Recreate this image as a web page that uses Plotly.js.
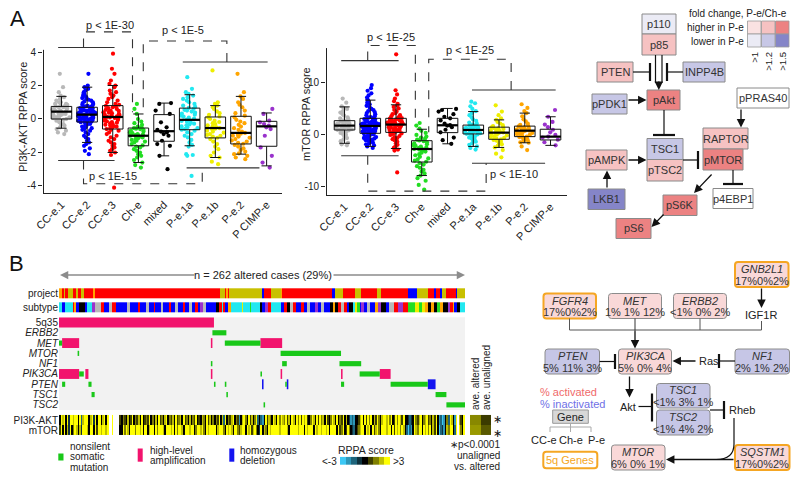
<!DOCTYPE html>
<html><head><meta charset="utf-8">
<script src="https://cdn.plot.ly/plotly-3.0.1.min.js"></script>
<style>html,body{margin:0;padding:0;background:#fff}#chart{width:800px;height:479px}</style>
</head><body><div id="chart"></div>
<script>
// ================= DATA =================
const groups = ['CC-e.1','CC-e.2','CC-e.3','Ch-e','mixed','P-e.1a','P-e.1b','P-e.2','P CIMP-e'];

// PI3K-AKT RPPA score box statistics
const pi3kQ1     = [0.0,-0.18,-0.6,-1.6,-1.33,-0.64,-1.13,-1.49,-1.63];
const pi3kMedian = [0.44,0.26,0.12,-1.0,-0.73,-0.05,-0.54,-0.83,-0.44];
const pi3kQ3     = [0.75,0.7,0.8,-0.54,0.26,0.65,0.12,0.16,-0.14];
const pi3kLower  = [-0.55,-1.4,-2.0,-2.6,-2.2,-1.6,-2.3,-2.1,-2.8];
const pi3kUpper  = [1.35,1.9,2.0,0.3,0.95,1.45,0.8,1.35,0.36];
// PI3K-AKT sample points
const pi3kCCe1 = [2.7,1.9,1.6,1.4,1.3,1.2,1.1,1.0,1.0,0.9,0.9,0.85,0.8,0.8,0.75,0.7,0.7,0.65,0.6,0.6,0.55,0.5,0.5,0.45,0.45,0.4,0.4,0.35,0.3,0.3,0.25,0.2,0.2,0.15,0.1,0.1,0.05,0.0,0.0,-0.05,-0.1,-0.2,-0.3,-0.35,-0.4,-0.5,-0.6,-0.7,-0.8,-0.9];
const pi3kCCe2 = [2.7,2.0,1.9,1.8,1.7,1.6,1.5,1.45,1.4,1.3,1.25,1.2,1.15,1.1,1.05,1.0,0.95,0.9,0.85,0.8,0.78,0.75,0.72,0.68,0.65,0.62,0.6,0.57,0.55,0.52,0.5,0.48,0.45,0.42,0.4,0.38,0.36,0.34,0.32,0.3,0.28,0.27,0.26,0.25,0.22,0.2,0.18,0.16,0.14,0.12,0.1,0.08,0.06,0.04,0.02,0.0,-0.02,-0.04,-0.06,-0.08,-0.1,-0.12,-0.14,-0.16,-0.17,-0.18,-0.19,-0.22,-0.26,-0.3,-0.35,-0.4,-0.45,-0.5,-0.55,-0.6,-0.65,-0.7,-0.8,-0.9,-1.0,-1.1,-1.2,-1.3,-1.4,-1.5,-1.6,-1.75,-1.9,-2.1];
const pi3kCCe3 = [3.9,3.0,2.7,2.3,2.1,2.0,1.9,1.7,1.6,1.5,1.4,1.3,1.2,1.1,1.0,0.9,0.85,0.78,0.75,0.7,0.65,0.6,0.55,0.5,0.48,0.45,0.4,0.38,0.35,0.3,0.27,0.24,0.2,0.16,0.13,0.1,0.06,0.02,-0.02,-0.06,-0.1,-0.14,-0.18,-0.22,-0.26,-0.3,-0.34,-0.38,-0.42,-0.46,-0.5,-0.55,-0.6,-0.65,-0.7,-0.8,-0.9,-1.0,-1.1,-1.2,-1.3,-1.4,-1.5,-1.6,-1.7,-1.8,-1.9,-2.0,-2.15,-4.1];
const pi3kChe  = [0.9,0.6,0.3,0.0,-0.15,-0.25,-0.35,-0.45,-0.5,-0.55,-0.58,-0.6,-0.65,-0.7,-0.75,-0.8,-0.85,-0.9,-0.93,-0.96,-0.98,-1.0,-1.02,-1.05,-1.1,-1.15,-1.2,-1.25,-1.3,-1.35,-1.4,-1.5,-1.58,-1.65,-1.7,-1.8,-1.9,-2.0,-2.1,-2.2,-2.3,-2.45,-2.6,-2.75,-2.9];
const pi3kMixed = [0.95,0.9,0.5,0.3,-0.2,-0.5,-0.65,-0.75,-0.8,-0.9,-1.0,-1.3,-1.5,-1.6,-2.2,-3.0];
const pi3kPe1a = [2.5,1.8,1.6,1.5,1.4,1.3,1.2,1.1,1.0,0.9,0.8,0.72,0.66,0.6,0.55,0.5,0.44,0.38,0.32,0.26,0.2,0.14,0.08,0.02,-0.04,-0.08,-0.12,-0.17,-0.22,-0.28,-0.33,-0.38,-0.44,-0.5,-0.55,-0.6,-0.64,-0.7,-0.8,-0.9,-1.0,-1.1,-1.25,-1.4,-1.55,-1.65,-2.1,-2.15,-2.2,-3.4];
const pi3kPe1b = [2.9,1.0,0.9,0.8,0.7,0.6,0.45,0.35,0.25,0.15,0.1,0.0,-0.1,-0.18,-0.25,-0.3,-0.38,-0.44,-0.5,-0.54,-0.58,-0.62,-0.7,-0.75,-0.82,-0.9,-0.95,-1.0,-1.05,-1.12,-1.2,-1.35,-1.5,-1.65,-1.8,-2.0,-2.2,-2.3,-2.55,-2.7];
const pi3kPe2  = [2.7,1.6,1.35,1.2,1.0,0.85,0.7,0.5,0.35,0.2,0.1,-0.05,-0.15,-0.25,-0.35,-0.45,-0.55,-0.65,-0.75,-0.83,-0.88,-0.95,-1.0,-1.05,-1.12,-1.2,-1.28,-1.35,-1.42,-1.48,-1.55,-1.65,-1.75,-1.85,-1.95,-2.05,-2.1,-2.2,-2.3,-2.4];
const pi3kCIMP = [0.6,0.3,-0.1,-0.2,-0.3,-0.4,-0.5,-0.6,-1.0,-1.7,-2.2,-2.6,-2.9];

// mTOR RPPA score box statistics
const mtorQ1     = [0.96,0.32,0.5,-5.2,0.45,0.2,-0.83,-0.32,-0.96];
const mtorMedian = [1.8,1.73,2.0,-2.7,1.86,0.96,0.45,0.83,-0.32];
const mtorQ3     = [2.75,3.2,3.2,-1.1,3.2,1.9,1.5,1.7,1.1];
const mtorLower  = [-1.6,-2.2,-2.6,-7.8,-1.7,-2.2,-2.4,-1.5,-2.0];
const mtorUpper  = [5.4,6.7,5.8,1.1,5.1,4.5,2.9,4.2,3.5];
// mTOR sample points
const mtorCCe1 = [7.0,6.2,5.5,5.2,5.0,4.6,4.3,4.0,3.7,3.4,3.2,3.0,2.8,2.7,2.6,2.5,2.4,2.3,2.2,2.1,2.0,1.95,1.9,1.85,1.8,1.75,1.7,1.6,1.5,1.45,1.4,1.3,1.25,1.2,1.1,1.05,0.98,0.9,0.8,0.6,0.4,0.2,0.0,-0.3,-0.6,-0.9,-1.2,-1.5,-1.8,-2.0];
const mtorCCe2 = [9.6,9.0,8.5,8.0,7.6,7.2,6.8,6.5,6.2,5.9,5.6,5.3,5.0,4.8,4.6,4.4,4.2,4.0,3.8,3.6,3.45,3.35,3.25,3.15,3.05,2.95,2.85,2.75,2.65,2.55,2.45,2.35,2.3,2.25,2.2,2.15,2.1,2.05,2.0,1.95,1.9,1.85,1.8,1.77,1.74,1.7,1.62,1.55,1.48,1.4,1.33,1.26,1.2,1.13,1.06,1.0,0.93,0.86,0.8,0.73,0.66,0.6,0.53,0.47,0.42,0.37,0.33,0.28,0.2,0.1,0.0,-0.1,-0.2,-0.3,-0.4,-0.5,-0.6,-0.7,-0.8,-0.9,-1.0,-1.1,-1.2,-1.35,-1.5,-1.65,-1.8,-2.0,-2.2,-2.5];
const mtorCCe3 = [15.5,8.6,7.8,7.0,6.5,6.0,5.7,5.4,5.1,4.8,4.5,4.2,4.0,3.8,3.6,3.4,3.25,3.15,3.05,2.95,2.85,2.8,2.7,2.6,2.55,2.5,2.4,2.35,2.3,2.25,2.2,2.15,2.1,2.05,2.0,1.95,1.85,1.75,1.7,1.6,1.5,1.45,1.35,1.25,1.15,1.1,1.0,0.9,0.85,0.75,0.65,0.58,0.5,0.4,0.3,0.2,0.0,-0.2,-0.4,-0.6,-0.8,-1.0,-1.3,-1.6,-1.9,-2.2,-2.5,-2.8,-3.0,-7.2];
const mtorChe  = [2.3,1.8,1.2,0.8,0.4,0.0,-0.3,-0.5,-0.7,-0.9,-1.05,-1.2,-1.4,-1.6,-1.8,-1.95,-2.1,-2.25,-2.4,-2.5,-2.6,-2.7,-2.8,-3.0,-3.2,-3.4,-3.7,-3.9,-4.2,-4.5,-4.7,-4.95,-5.15,-5.4,-5.7,-6.0,-6.3,-6.7,-7.0,-7.4,-7.8,-8.3,-8.8,-9.6,-10.5];
const mtorMixed = [5.0,4.8,4.5,4.0,3.5,3.2,2.8,2.2,1.9,1.8,1.5,1.0,0.5,-0.5,-1.0,-1.7];
const mtorPe1a = [6.4,6.1,5.5,5.0,4.6,4.2,3.8,3.4,3.0,2.7,2.4,2.2,2.0,1.85,1.75,1.65,1.55,1.45,1.38,1.3,1.22,1.15,1.08,1.02,0.97,0.92,0.85,0.78,0.72,0.65,0.58,0.52,0.46,0.4,0.33,0.27,0.21,0.1,-0.1,-0.3,-0.5,-0.7,-0.9,-1.1,-1.3,-1.6,-1.9,-2.2,-2.5,-2.8];
const mtorPe1b = [5.7,4.5,3.8,3.2,2.9,2.5,2.2,1.9,1.7,1.55,1.45,1.35,1.25,1.15,1.05,0.95,0.8,0.7,0.58,0.47,0.4,0.3,0.2,0.05,-0.1,-0.25,-0.4,-0.55,-0.7,-0.82,-0.95,-1.1,-1.3,-1.5,-1.8,-2.1,-2.4,-2.9,-3.6,-4.3];
const mtorPe2  = [5.9,5.2,4.6,4.2,3.6,3.0,2.6,2.2,1.95,1.75,1.65,1.55,1.45,1.35,1.25,1.15,1.05,0.98,0.9,0.84,0.78,0.7,0.6,0.5,0.4,0.3,0.15,0.0,-0.15,-0.3,-0.4,-0.55,-0.7,-0.85,-1.0,-1.2,-1.4,-1.5,-2.2,-2.9];
const mtorCIMP = [4.8,3.5,2.5,2.0,1.5,1.0,0.5,0.0,-0.3,-0.5,-0.9,-1.4,-2.0];

// Panel B oncoprint (262 altered cases)
const nCases = 262;
const projectKeys = ['R','Y','B','O'];
const projectRuns = 'O2R1Y1R2Y3R2Y1R2Y2R6O1R81Y3R1O1R1Y21B1R5Y6O1R32B2Y5R8Y4R10Y3R17B6Y7R4B1R3B1Y3R6B1Y5';
const subtypeKeys = ['g','b','r','G','k','c','y','o','p'];
const subtypeRuns = 'c2b2c5r1o1b2k4b1c3p2g4r2b3g2r3b7g2b5r1b4g2b3r1b4g1b4r1b3g2b3r1b3g2b2r2b1p2g2b6k2r2c1r1b2o2c7y1c4G1c6k1b2p2r2c6b2r2k2g2r2b3r2b2g2b3p2b2g2b4k2o1k2r2g2r2b1k3c1y1G2b1p2b2g2b3o2p2k3b2g3r3p3r3G5y2G2y2o2k2o2k2G2o2k3p1r2o1b2k2c3';
const heatGenes = ['5q35','ERBB2','MET','MTOR','NF1','PIK3CA','PTEN','TSC1','TSC2'];
const heatGeneLabels = ['5q35','<i>ERBB2</i>','<i>MET</i>','<i>MTOR</i>','<i>NF1</i>','<i>PIK3CA</i>','<i>PTEN</i>','<i>TSC1</i>','<i>TSC2</i>'];
// alterations: [gene, firstCase, lastCase]
const mutations = [
  ['ERBB2',99,107],['MET',0,1],['MET',107,129],['MTOR',12,12],['MTOR',143,181],
  ['NF1',98,98],['NF1',144,146],['NF1',181,194],
  ['PIK3CA',13,15],['PIK3CA',130,130],['PIK3CA',194,206],
  ['PTEN',2,3],['PTEN',19,20],['PTEN',100,100],['PTEN',107,107],['PTEN',146,146],['PTEN',182,183],['PTEN',214,237],
  ['TSC1',21,22],['TSC1',108,108],['TSC1',243,249],['TSC2',132,132],['TSC2',250,261]];
const amplifications = [
  ['5q35',0,99],['MET',2,12],['MET',98,98],['MET',130,143],
  ['PIK3CA',0,12],['PIK3CA',17,18],['PIK3CA',98,98],['PIK3CA',143,143],['PIK3CA',182,182],['PIK3CA',207,213]];
const deletions = [['PTEN',131,131],['PTEN',147,147],['PTEN',238,242]];
// RPPA scores per case, digit d -> (d-4)*0.75, '.' = no data
const rppaPI3K = ['4878483887','8848278884','7838488478','48..8....5','4654745846','5748456584','6474856478','4657485674','8564746584','5476485746','4658472846','5784651478','6485746824','2148576487','4868768574','8748685878','5468748586','7485468748','4658474312','1445784858','6847586478','8786845868','7584432348','6578467856','4758412014','6287418.75','48'].join('');
const rppaMTOR = ['5848473846','8747388874','8848588788','78..8....4','4868748886','8878488478','8486888748','8878486887','4888788468','8786487888','8478886487','8748865788','4878578643','8476487888','8878888748','8888788848','7888487887','8878488884','8568458643','2456788487','8485786488','8788485878','6874202148','7688487868','4758402314','7688428.86','48'].join('');
const rppaRows = ['PI3K-AKT','mTOR'];
const aveAltered = [1.6, 1.8];
const aveUnaligned = [0.7, 1.05];
const rppaLegendValues = [-3,-2.25,-1.5,-0.75,0,0.75,1.5,2.25,3];

// Pathway A: nodes and fold change level (P-e / Ch-e): + higher, - lower, 0 none
const pathANodes = ['p110','p85','PTEN','INPP4B','pPDK1','pAkt','pPRAS40','RAPTOR','pMTOR','TSC1','pTSC2','pAMPK','LKB1','p4EBP1','pS6K','pS6'];
const pathAFold  = [-1,2,2,-2,-2,3,0,2,3,-2,2,2,-3,0,3,3];
const foldLegendLabels = ['>1','>1.2','>1.5'];

// Pathway B: genes and alteration frequencies (CC-e, Ch-e, P-e)
const pathBGenes = ['GNB2L1','FGFR4','MET','ERBB2','PTEN','PIK3CA','NF1','TSC1','TSC2','MTOR','SQSTM1'];
const pathBPct = ['17%0%2%','17%0%2%','1% 1% 12%','&lt;1% 0% 2%','5% 11% 3%','5% 0% 4%','2% 1% 2%','&lt;1% 3% 1%','&lt;1% 4% 2%','6% 0% 1%','17%0%2%'];
const pathBActivated = [true,true,true,true,false,true,false,false,false,true,true];
const pathB5q = [true,true,false,false,false,false,false,false,false,false,true];

// ================= STYLE / LAYOUT HELPERS =================
const FONT = 'Liberation Sans, Arial, sans-serif';
const INK = '#222';
const groupColors = ['#b8b8b8','#0000ff','#ff0000','#22dd22','#000000','#22e8f0','#eeee00','#ffa500','#9932cc'];
const projectColors = ['#ff0000','#c8c000','#0000ff','#ffa500'];
const mutColor = '#19c819', ampColor = '#f2136d', delColor = '#1414f0';
const hiCols = ['#ffffff','#fae2e2','#f6c2c2','#ec8282'];
const loCols = ['#ffffff','#ebebf5','#c7c7e6','#8585c8'];
const X = p => p/800, Y = p => 1 - p/479;

const annotations = [], shapes = [];
function txt(x, y, text, o={}) {
  annotations.push(Object.assign({xref:'paper', yref:'paper', x:X(x), y:Y(y), text, showarrow:false,
    xanchor:'center', yanchor:'middle', font:{family:FONT, size:11, color:INK}}, o));
}
function arrow(x0, y0, x1, y1, o={}) {
  annotations.push(Object.assign({xref:'paper', yref:'paper', x:X(x1), y:Y(y1), ax:x0-x1, ay:y0-y1,
    axref:'pixel', ayref:'pixel', text:'', showarrow:true, arrowhead:2, arrowsize:1.3, arrowwidth:1.3,
    arrowcolor:'#111', standoff:0, startstandoff:0}, o));
}
function line(x0, y0, x1, y1, w=1, c='#111', dash='solid') {
  shapes.push({type:'line', xref:'paper', yref:'paper', x0:X(x0), y0:Y(y0), x1:X(x1), y1:Y(y1), line:{color:c, width:w, dash}});
}
function rect(x0, y0, x1, y1, fill, lc='#999', lw=1) {
  shapes.push({type:'rect', xref:'paper', yref:'paper', x0:X(x0), y0:Y(y0), x1:X(x1), y1:Y(y1), fillcolor:fill, line:{color:lc, width:lw}});
}
function rrect(x0, y0, x1, y1, r, fill, lc, lw) {
  const P = (x,y) => X(x)+','+Y(y);
  const path = `M${P(x0+r,y0)} L${P(x1-r,y0)} Q${P(x1,y0)} ${P(x1,y0+r)} L${P(x1,y1-r)} Q${P(x1,y1)} ${P(x1-r,y1)} L${P(x0+r,y1)} Q${P(x0,y1)} ${P(x0,y1-r)} L${P(x0,y0+r)} Q${P(x0,y0)} ${P(x0+r,y0)} Z`;
  shapes.push({type:'path', xref:'paper', yref:'paper', path, fillcolor:fill, line:{color:lc, width:lw}});
}
function dataLine(xa, ya, pts, dash) {
  const d = pts.map((p,i)=> (i? 'L':'M') + p[0] + ',' + p[1]).join(' ');
  shapes.push({type:'path', xref:xa, yref:ya, path:d, line:{color:'#333', width:1.1, dash: dash ? 'dash' : 'solid'}});
}
function expandRuns(s) { const out = []; const re = /([A-Za-z])(\d+)/g; let m;
  while ((m = re.exec(s))) for (let i = 0; i < +m[2]; i++) out.push(m[1]); return out; }
function discreteScale(cols) { const n = cols.length, cs = [];
  cols.forEach((c,k) => { cs.push([k/n, c]); cs.push([(k+1)/n, c]); }); return cs; }

// ================= TRACES =================
const traces = [];
function boxPanel(xa, ya, pts, q1, med, q3, lo, hi) {
  groups.forEach((g,i) => traces.push({type:'box', x0:i, y:pts[i], name:g, xaxis:xa, yaxis:ya,
    boxpoints:'all', jitter:0.95, pointpos:0, width:0.8, whiskerwidth:0,
    marker:{color:groupColors[i], size:4.2, line:{width:0}}, line:{width:0, color:'rgba(0,0,0,0)'},
    fillcolor:'rgba(0,0,0,0)', showlegend:false, hoverinfo:'y'}));
  traces.push({type:'box', x:groups.map((g,i)=>i), q1, median:med, q3, lowerfence:lo, upperfence:hi,
    xaxis:xa, yaxis:ya, width:0.8, boxpoints:false, whiskerwidth:0.5,
    line:{color:'#111', width:1}, fillcolor:'rgba(255,255,255,0)', showlegend:false});
  const mx = [], my = [];
  med.forEach((m,i) => { mx.push(i-0.4, i+0.4, null); my.push(m, m, null); });
  traces.push({type:'scatter', mode:'lines', x:mx, y:my, xaxis:xa, yaxis:ya, line:{color:'#000', width:2.2}, showlegend:false, hoverinfo:'skip'});
}
boxPanel('x','y',[pi3kCCe1,pi3kCCe2,pi3kCCe3,pi3kChe,pi3kMixed,pi3kPe1a,pi3kPe1b,pi3kPe2,pi3kCIMP], pi3kQ1,pi3kMedian,pi3kQ3,pi3kLower,pi3kUpper);
boxPanel('x2','y2',[mtorCCe1,mtorCCe2,mtorCCe3,mtorChe,mtorMixed,mtorPe1a,mtorPe1b,mtorPe2,mtorCIMP], mtorQ1,mtorMedian,mtorQ3,mtorLower,mtorUpper);

// Oncoprint rows (y in row units; 5q35 = 0 ... TSC2 = 8)
const projectEdges = [-3.32,-2.35], subtypeEdges = [-1.96,-0.99], rppaEdges = [8.98,9.95,10.92];
const projCodes = expandRuns(projectRuns).map(k => projectKeys.indexOf(k));
const subCodes = expandRuns(subtypeRuns).map(k => subtypeKeys.indexOf(k));
traces.push({type:'heatmap', z:[projCodes], x0:0, dx:1, y:projectEdges, xaxis:'x3', yaxis:'y3',
  zmin:-0.5, zmax:projectKeys.length-0.5, colorscale:discreteScale(projectColors), showscale:false, hoverinfo:'skip'});
traces.push({type:'heatmap', z:[subCodes], x0:0, dx:1, y:subtypeEdges, xaxis:'x3', yaxis:'y3',
  zmin:-0.5, zmax:subtypeKeys.length-0.5, colorscale:discreteScale(groupColors), showscale:false, hoverinfo:'skip'});
const rppaScale = [[0,'#3cc8f5'],[0.5,'#000000'],[1,'#ffff00']];
const toScore = s => s.split('').map(ch => ch === '.' ? null : (+ch - 4) * 0.75);
traces.push({type:'heatmap', z:[toScore(rppaPI3K), toScore(rppaMTOR)], x0:0, dx:1, y:rppaEdges, xaxis:'x3', yaxis:'y3',
  zmin:-3, zmax:3, colorscale:rppaScale, showscale:false, hoverinfo:'skip'});
traces.push({type:'heatmap', z:[[aveAltered[0], aveUnaligned[0]],[aveAltered[1], aveUnaligned[1]]], x:[0,1], y:rppaEdges,
  xaxis:'x4', yaxis:'y3', zmin:-3, zmax:3, colorscale:rppaScale, showscale:false, hoverinfo:'skip'});
traces.push({type:'heatmap', z:[rppaLegendValues], x0:0, dx:1, xaxis:'x5', yaxis:'y5',
  zmin:-3, zmax:3, colorscale:rppaScale, showscale:false, hoverinfo:'skip'});
function altBars(list, color, w) {
  traces.push({type:'bar', orientation:'h', xaxis:'x3', yaxis:'y3',
    y:list.map(a => heatGenes.indexOf(a[0])), base:list.map(a => a[1]-0.5), x:list.map(a => a[2]-a[1]+1),
    width:list.map(() => w), marker:{color, line:{width:0}}, showlegend:false, hoverinfo:'skip'});
}
altBars(amplifications, ampColor, 0.96);
altBars(deletions, delColor, 0.96);
altBars(mutations, mutColor, 0.5);
shapes.push({type:'rect', xref:'x3', yref:'y3', x0:-0.5, x1:nCases-0.5, y0:-0.5, y1:8.5, fillcolor:'#f2f2f2', line:{width:0}, layer:'below'});

// ================= BRACKETS (panel A) =================
shapes.push({type:'line', xref:'x', yref:'y', x0:-0.7, x1:-0.7, y0:-4.42, y1:4.13, line:{color:INK, width:1}});
shapes.push({type:'line', xref:'x2', yref:'y2', x0:-0.7, x1:-0.7, y0:-11.54, y1:16.7, line:{color:INK, width:1}});
dataLine('x','y',[[-0.13,4.27],[2.07,4.27]]);
dataLine('x','y',[[0.86,4.27],[0.86,5.2],[2.77,5.2],[2.77,0.4]], true);
dataLine('x','y',[[4.73,3.4],[8.04,3.4]]);
dataLine('x','y',[[6.45,3.4],[6.45,4.66],[3.19,4.66],[3.19,0.16]], true);
dataLine('x','y',[[-0.13,-2.48],[2.07,-2.48]]);
dataLine('x','y',[[0.86,-2.48],[0.86,-3.87],[5.49,-3.87],[5.49,-2.92]], true);
dataLine('x','y',[[4.88,-2.92],[7.72,-2.92]]);
dataLine('x2','y2',[[-0.13,14.3],[2.1,14.3]]);
dataLine('x2','y2',[[0.9,14.3],[0.9,17.2],[2.75,17.2],[2.75,2.6]], true);
dataLine('x2','y2',[[4.95,8.65],[8.2,8.65]]);
dataLine('x2','y2',[[6.47,8.65],[6.47,14.55],[3.27,14.55],[3.27,0.5]], true);
dataLine('x2','y2',[[-0.13,-4.0],[2.1,-4.0]]);
dataLine('x2','y2',[[0.9,-4.0],[0.9,-10.8],[5.5,-10.8],[5.5,-5.45]], true);
dataLine('x2','y2',[[4.95,-5.45],[7.79,-5.45]]);
const pFont = {family:FONT, size:11, color:INK};
annotations.push({xref:'x', yref:'y', x:0.88, y:5.62, text:'p &lt; 1E-30', showarrow:false, xanchor:'left', font:pFont});
annotations.push({xref:'x', yref:'y', x:4.74, y:5.3, text:'p &lt; 1E-5', showarrow:false, font:pFont});
annotations.push({xref:'x', yref:'y', x:1.0, y:-3.4, text:'p &lt; 1E-15', showarrow:false, xanchor:'left', font:pFont});
annotations.push({xref:'x2', yref:'y2', x:0.8, y:18.9, text:'p &lt; 1E-25', showarrow:false, xanchor:'left', font:pFont});
annotations.push({xref:'x2', yref:'y2', x:4.88, y:16.3, text:'p &lt; 1E-25', showarrow:false, font:pFont});
annotations.push({xref:'x2', yref:'y2', x:6.6, y:-7.5, text:'p &lt; 1E-10', showarrow:false, font:pFont});
txt(23, 117, 'PI3K-AKT RPPA score', {textangle:-90});
txt(306, 114, 'mTOR RPPA score', {textangle:-90});
txt(17, 18, 'A', {font:{family:FONT, size:22, color:'#111'}});
txt(16, 263, 'B', {font:{family:FONT, size:22, color:'#111'}});

// ================= PATHWAY A =================
const pathABoxes = [[642,14,676,34],[642,34,676,55],[597,62,633,82],[683,62,725,82],[592,94,627,114],[647,90,680,110],
  [737,88,789,108],[703,128,748,149],[703,149,743,170],[647,138.5,683,159.5],[647,159.5,683,181],[586,150,627,170],
  [588,189,625,209.5],[713,188.5,753,208.5],[663,195,697,215.5],[616,218.5,651,238.5]];
const foldColor = f => f > 0 ? hiCols[f] : loCols[-f];
pathANodes.forEach((n,i) => { const b = pathABoxes[i]; rect(b[0],b[1],b[2],b[3], foldColor(pathAFold[i]), '#8a8a8a', 1);
  txt((b[0]+b[2])/2, (b[1]+b[3])/2, n, {font:{family:FONT, size:11, color:'#333'}}); });
// arrows / inhibitions
line(655.5,55,655.5,83,1.2); line(662,55,662,83,1.2); arrow(658.8,80,658.8,90);
line(633,72,650,72,1.2); line(650,63,650,81,2.2);
line(683,72,667,72,1.2); line(667,63,667,81,2.2);
arrow(627,100,646.5,100);
line(664,110,664,135,1.2); line(653,135,675,135,2.2);
arrow(741,108,741,127.5);
arrow(627,160,646.5,160);
line(683,160,698,160,1.2); line(698,151,698,169,2.2);
arrow(607,189,607,170.5);
line(733,170,733,184,1.2); line(723,184,743,184,2.2);
arrow(713,173,694,193);
arrow(665,213,651.5,227);
// fold-change legend
txt(737.5, 13.3, 'fold change, P-e/Ch-e', {font:{family:FONT, size:10, color:INK}});
txt(746, 28, 'higher in P-e', {xanchor:'right', font:{family:FONT, size:10, color:INK}});
txt(746, 41.5, 'lower in P-e', {xanchor:'right', font:{family:FONT, size:10, color:INK}});
const legCellX = [[747.5,761],[761.5,775],[775.5,789]];
foldLegendLabels.forEach((l,k) => {
  rect(legCellX[k][0], 21, legCellX[k][1], 34, hiCols[k+1], '#999', 0.8);
  rect(legCellX[k][0], 34, legCellX[k][1], 47, loCols[k+1], '#999', 0.8);
  txt((legCellX[k][0]+legCellX[k][1])/2, 50, l, {textangle:-90, yanchor:'top', font:{family:FONT, size:9.5, color:INK}});
});

// ================= PANEL B texts / legends =================
txt(263, 275, 'n = 262 altered cases (29%)');
arrow(196,275,60,275,{arrowcolor:'#8c8c8c', arrowwidth:1.5, arrowsize:1.1});
arrow(332,275,465,275,{arrowcolor:'#8c8c8c', arrowwidth:1.5, arrowsize:1.1});
const lf = {family:FONT, size:10, color:INK};
rect(58.3,453.5,63.5,460.5, mutColor, mutColor, 0);
txt(68,446,'nonsilent',{xanchor:'left',font:lf}); txt(68,456.7,'somatic',{xanchor:'left',font:lf}); txt(68,467,'mutation',{xanchor:'left',font:lf});
rect(137.7,448.5,142.7,461.7, ampColor, ampColor, 0);
txt(147.5,450.5,'high-level',{xanchor:'left',font:lf}); txt(147.5,460.5,'amplification',{xanchor:'left',font:lf});
rect(229.3,448.5,234.3,461.7, delColor, delColor, 0);
txt(238,450.5,'homozygous',{xanchor:'left',font:lf}); txt(238,460.5,'deletion',{xanchor:'left',font:lf});
txt(366,450,'RPPA score',{font:{family:FONT, size:10.5, color:INK}});
txt(339,461,'&lt;-3',{xanchor:'right',font:lf}); txt(391,461,'&gt;3',{xanchor:'left',font:lf});
txt(502,444.5,'∗p&lt;0.0001',{xanchor:'right',font:lf}); txt(502,455.5,'unaligned',{xanchor:'right',font:lf}); txt(502,466.3,'vs. altered',{xanchor:'right',font:lf});
txt(475,384,'ave. altered',{textangle:-90,font:lf}); txt(486.5,377.5,'ave. unaligned',{textangle:-90,font:lf});
txt(497,418.5,'∗',{font:{family:FONT, size:11, color:'#111'}}); txt(497,432.5,'∗',{font:{family:FONT, size:11, color:'#111'}});

// ================= PATHWAY B =================
const pathBBoxes = [[735,262,788.5,287],[543.5,293.5,596,318.5],[608.5,293.5,661.5,318.5],[673.5,293.5,726.5,318.5],
  [545,349,599.5,374],[618.5,349,671.5,374],[735,349,789.5,374],[656.5,383.5,710,408],[656.5,410,710,435],
  [611.5,445,665,470],[735,445,789.5,470]];
const pinkB = '#f9d8d8', lavB = '#c6c6e6', orangeB = '#f5a623';
pathBGenes.forEach((g,i) => { const b = pathBBoxes[i];
  rrect(b[0],b[1],b[2],b[3],3, pathBActivated[i] ? pinkB : lavB, pathB5q[i] ? orangeB : '#8c8c8c', pathB5q[i] ? 2 : 1);
  const cx = (b[0]+b[2])/2, cy = (b[1]+b[3])/2;
  txt(cx, cy-5.5, '<i>'+g+'</i>', {font:{family:FONT, size:11, color:'#333'}});
  txt(cx, cy+6, pathBPct[i], {font:{family:FONT, size:11, color:'#333'}});
});
const nf = {family:FONT, size:11, color:'#222'};
txt(761, 315, 'IGF1R', {font:nf}); txt(708.5, 361, 'Ras', {font:nf}); txt(627.5, 406.5, 'Akt', {font:nf}); txt(741.5, 410, 'Rheb', {font:nf});
arrow(761.5,287,761.5,308);
line(569.5,330,761.5,330,1,'#555'); line(569.5,318.5,569.5,330,1,'#555'); line(700,318.5,700,330,1,'#555'); line(761.5,321,761.5,330,1,'#555');
line(635,318.5,635,332,1,'#333'); arrow(635,330,635,348.5);
line(599.5,361.5,615,361.5,1.2); line(615,354,615,369,2.2);
line(735,361,719,361,1.2); line(719,354,719,368,2.2);
arrow(697,361,672.5,361);
arrow(629.5,375,629.5,397.5);
line(638.5,406.5,652,406.5,1.2); line(652,393.5,652,421.5,2.2);
line(710,410,724,410,1.2); line(724,401,724,419,2.2);
shapes.push({type:'path', xref:'paper', yref:'paper', line:{color:'#111', width:1.2},
  path:`M${X(734)},${Y(418)} L${X(734)},${Y(444)} Q${X(734)},${Y(459.5)} ${X(716)},${Y(459.5)}`});
arrow(735,459.5,666,459.5);
// legend
txt(568.5,391.7,'% activated',{font:{family:FONT, size:11, color:'#f06a6a'}});
txt(572,403.5,'% inactivated',{font:{family:FONT, size:11, color:'#6f6fe6'}});
rect(552.7,410,588.3,423.3,'#d8d8d8','#999',1);
txt(570.5,416.7,'Gene',{font:nf});
line(570.5,423.3,570.5,427,1,'#aaa'); line(550,427,591,427,1,'#aaa'); line(550,427,550,432,1,'#aaa'); line(591,427,591,432,1,'#aaa'); line(570.5,427,570.5,432,1,'#aaa');
txt(543.5,439.5,'CC-e',{font:nf}); txt(570.7,439.5,'Ch-e',{font:nf}); txt(596,439.5,'P-e',{font:nf});
rrect(543.3,451.7,597.3,468.3,3,'#ffffff',orangeB,2);
txt(570.3,460,'5q Genes',{font:{family:FONT, size:11, color:orangeB}});

// ================= LAYOUT =================
const axBase = {showgrid:false, zeroline:false, fixedrange:true};
const layout = {
  width:800, height:479, margin:{l:0,r:0,t:0,b:0}, paper_bgcolor:'#fff', plot_bgcolor:'rgba(0,0,0,0)',
  font:{family:FONT, size:11, color:INK}, showlegend:false, boxmode:'overlay', barmode:'overlay',
  xaxis: Object.assign({}, axBase, {domain:[43/800, 282/800], range:[-0.72, 8.6], anchor:'y', showline:true, linecolor:INK, linewidth:1,
    tickvals:groups.map((g,i)=>i), ticktext:groups, tickangle:-45, ticks:'', tickfont:{size:11}}),
  yaxis: Object.assign({}, axBase, {domain:[1-193/479, 1-13/479], range:[-4.42, 6.33], anchor:'x',
    tickvals:[-4,-2,0,2,4], ticktext:['-4','-2','0','2','4'], ticks:'outside', ticklen:4, tickcolor:INK, tickfont:{size:10}}),
  xaxis2: Object.assign({}, axBase, {domain:[326/800, 567/800], range:[-0.72, 8.64], anchor:'y2', showline:true, linecolor:INK, linewidth:1,
    tickvals:groups.map((g,i)=>i), ticktext:groups, tickangle:-45, ticks:'', tickfont:{size:11}}),
  yaxis2: Object.assign({}, axBase, {domain:[1-195/479, 1-20/479], range:[-11.54, 22.1], anchor:'x2',
    tickvals:[-10,0,10], ticktext:['-10','0','10'], ticks:'outside', ticklen:4, tickcolor:INK, tickfont:{size:10}}),
  xaxis3: Object.assign({}, axBase, {domain:[59/800, 465/800], range:[-0.5, nCases-0.5], anchor:'y3', visible:false}),
  yaxis3: Object.assign({}, axBase, {domain:[1-437/479, 1-285/479], range:[11.12, -3.64], anchor:'x3',
    tickvals:[-2.84,-1.48,0,1,2,3,4,5,6,7,8,9.47,10.44], ticktext:['project','subtype'].concat(heatGeneLabels, rppaRows),
    ticks:'', tickfont:{size:10}, showline:false}),
  xaxis4: Object.assign({}, axBase, {domain:[470/800, 491/800], range:[-0.5, 1.5], anchor:'y3', visible:false}),
  xaxis5: Object.assign({}, axBase, {domain:[340/800, 390/800], range:[-0.5, 8.5], anchor:'y5', visible:false}),
  yaxis5: Object.assign({}, axBase, {domain:[1-465/479, 1-456.7/479], range:[-0.5, 0.5], anchor:'x5', visible:false}),
  shapes, annotations
};
Plotly.newPlot('chart', traces, layout, {displayModeBar:false, staticPlot:true});
</script></body></html>
